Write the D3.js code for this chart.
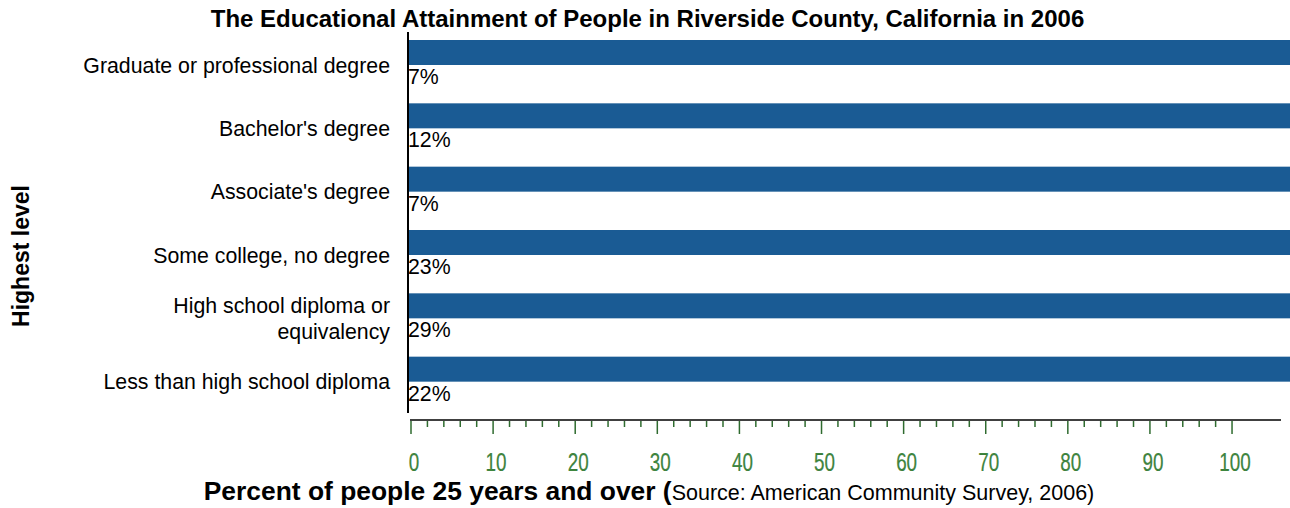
<!DOCTYPE html>
<html><head><meta charset="utf-8">
<script src="https://cdn.jsdelivr.net/npm/d3@7"></script>
<style>body{margin:0;background:#fff}svg{display:block}</style>
</head><body>
<svg id="c" width="1290" height="508"></svg>
<script>
const categories = [
  ["Graduate or professional degree"],
  ["Bachelor's degree"],
  ["Associate's degree"],
  ["Some college, no degree"],
  ["High school diploma or", "equivalency"],
  ["Less than high school diploma"]
];
const values = [7, 12, 7, 23, 29, 22];
const majorTicks = [0, 10, 20, 30, 40, 50, 60, 70, 80, 90, 100];
const minorTicks = d3.range(0, 101, 2);

const FONT = "Liberation Sans, Arial, sans-serif";
const svg = d3.select("#c");
const W = 1290;
const x = d3.scaleLinear().domain([0, 106]).range([411, 1281.3]);
const y = d3.scaleBand().domain(d3.range(categories.length)).range([40, 420]).padding(0);
const barH = 25;
const axisX = 408;

// title
svg.append("text").attr("x", 647.5).attr("y", 27).attr("text-anchor", "middle")
  .attr("font-family", FONT).attr("font-weight", "bold")
  .attr("font-size", 24).text("The Educational Attainment of People in Riverside County, California in 2006");

// bars (full width bands as in reference)
svg.selectAll("rect.bar").data(values).join("rect").attr("class", "bar")
  .attr("x", axisX).attr("y", (d, i) => y(i)).attr("width", W - axisX).attr("height", barH)
  .attr("fill", "#1a5b94");

// value labels
svg.selectAll("text.val").data(values).join("text").attr("class", "val")
  .attr("x", axisX).attr("y", (d, i) => y(i) + barH + 19)
  .attr("font-family", FONT).attr("font-size", 21.3)
  .attr("fill", "#000").text(d => d + "%");

// category labels
const cl = svg.selectAll("text.cat").data(categories).join("text").attr("class", "cat")
  .attr("text-anchor", "end").attr("font-family", FONT)
  .attr("font-size", 21.3).attr("fill", "#000");
cl.each(function(lines, i) {
  const t = d3.select(this);
  const lh = 25.5;
  const cy = y(i) + barH;
  lines.forEach((ln, k) => {
    t.append("tspan").attr("x", 390)
      .attr("y", cy - (lines.length - 1) * lh / 2 + k * lh + 7.5).text(ln);
  });
});

// vertical axis line
svg.append("line").attr("x1", axisX).attr("x2", axisX).attr("y1", 32).attr("y2", 413)
  .attr("stroke", "#000").attr("stroke-width", 2);

// horizontal axis
const ay = 420;
svg.append("line").attr("x1", 410).attr("x2", 1281).attr("y1", ay).attr("y2", ay)
  .attr("stroke", "#000").attr("stroke-width", 1.5);
svg.selectAll("line.minor").data(minorTicks.filter(v => v % 10 !== 0)).join("line").attr("class", "minor")
  .attr("x1", d => x(d)).attr("x2", d => x(d)).attr("y1", ay + 1).attr("y2", ay + 7)
  .attr("stroke", "#2f6b2f").attr("stroke-width", 1.5);
svg.selectAll("line.major").data(majorTicks).join("line").attr("class", "major")
  .attr("x1", d => x(d)).attr("x2", d => x(d)).attr("y1", ay + 1).attr("y2", ay + 14)
  .attr("stroke", "#2f6b2f").attr("stroke-width", 1.5);
svg.selectAll("text.tick").data(majorTicks).join("text").attr("class", "tick")
  .attr("transform", d => `translate(${x(d) + 3},470.5) scale(0.74,1)`)
  .attr("text-anchor", "middle").attr("font-family", FONT)
  .attr("font-size", 25.5).attr("fill", "#3f873f").attr("stroke", "#2a5e2a").attr("stroke-width", 0.2)
  .text(d => d);

// x axis title
const xt = svg.append("text").attr("x", 649).attr("y", 500).attr("text-anchor", "middle")
  .attr("font-family", FONT).attr("fill", "#000");
xt.append("tspan").attr("font-weight", "bold").attr("font-size", 26.4).text("Percent of people 25 years and over (");
xt.append("tspan").attr("font-size", 21.5).text("Source: American Community Survey, 2006)");

// y axis title
svg.append("text").attr("transform", "translate(28.5,256) rotate(-90)").attr("text-anchor", "middle")
  .attr("font-family", FONT).attr("font-weight", "bold")
  .attr("font-size", 23).attr("fill", "#000").text("Highest level");
</script>
</body></html>
